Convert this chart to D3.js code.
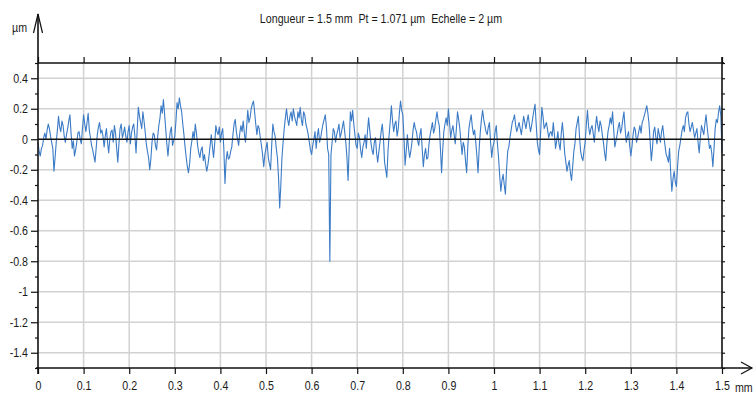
<!DOCTYPE html>
<html>
<head>
<meta charset="utf-8">
<script src="https://cdn.jsdelivr.net/npm/d3@7"></script>
<style>
  html, body { margin: 0; padding: 0; background: #fff; }
  svg { display: block; }
  text { font-family: "Liberation Sans", Arial, sans-serif; fill: #1a1a1a; white-space: pre; }
</style>
</head>
<body>
<svg id="chart" width="755" height="398"></svg>
<script>
// Roughness profile header
const titleText = "Longueur = 1.5 mm  Pt = 1.071 µm  Echelle = 2 µm";
const xUnit = "mm";
const yUnit = "µm";

// Axis ticks
const xTicks = [0, 0.1, 0.2, 0.3, 0.4, 0.5, 0.6, 0.7, 0.8, 0.9, 1, 1.1, 1.2, 1.3, 1.4, 1.5];
const yTicks = [0.4, 0.2, 0, -0.2, -0.4, -0.6, -0.8, -1, -1.2, -1.4];
const yMinorTicks = [0.5, 0.3, 0.1, -0.1, -0.3, -0.5, -0.7, -0.9, -1.1, -1.3, -1.5];

// Profile heights (µm) at 0, 0.005, 0.010 ... 1.5 mm
const sampleStep = 0.005;
const profile = [
  -0.02,-0.11,-0.04,0.04,0.06,0.07,-0.02,-0.21,-0.02,0.15,
  0.05,0.09,-0.02,0.07,0.16,-0.06,-0.11,-0.02,0.05,-0.03,
  0.16,0.05,0.17,0.01,-0.07,-0.15,0.03,0.11,0.06,-0.05,
  0.07,-0.09,0.05,-0.02,0.04,-0.15,0.07,0.01,0.08,-0.02,
  0.09,0.04,0.10,-0.09,0.21,0.11,0.18,0.05,-0.08,-0.20,
  -0.02,0.03,-0.07,0.09,0.22,0.26,0.07,-0.11,0.05,-0.04,
  0.02,0.24,0.271,0.18,0.03,-0.12,-0.22,-0.06,0.05,0.10,
  -0.04,-0.12,-0.05,-0.10,-0.21,
  -0.11,0.03,-0.12,0.09,0.03,-0.02,0.07,-0.29,-0.08,-0.12,
  -0.05,0.10,0.05,-0.04,0.09,0.12,-0.02,0.19,0.14,0.23,
  0.18,0.03,0.07,-0.04,-0.18,-0.06,-0.12,-0.20,0.10,0.02,
  -0.12,-0.45,-0.12,0.07,0.20,0.09,0.18,0.20,0.12,0.18,
  0.21,0.09,0.16,0.07,-0.02,-0.10,0.00,-0.06,0.07,0.01,
  0.10,0.16,-0.06,-0.80,-0.02,0.05,0.03,0.10,0.04,0.12,
  -0.02,-0.27,0.18,0.19,0.03,-0.06,0.01,-0.12,-0.02,-0.06,
  0.14,-0.02,-0.10,0.01,-0.15,
  -0.02,0.10,-0.15,-0.25,0.03,0.22,0.05,0.12,0.07,0.25,
  0.16,-0.17,0.03,-0.12,-0.02,0.11,0.05,-0.04,0.07,-0.18,
  -0.06,-0.12,0.03,0.11,0.07,0.18,0.09,-0.22,0.05,0.14,
  0.20,0.01,0.09,-0.03,0.18,0.07,-0.10,-0.05,-0.22,0.07,
  0.16,0.03,-0.02,-0.22,0.05,0.19,0.09,0.03,0.11,-0.12,
  -0.02,0.09,-0.12,-0.34,-0.23,-0.36,-0.08,0.01,0.11,0.16,
  0.05,0.11,0.03,0.15,0.07,0.16,0.05,0.14,0.23,-0.02,
  -0.10,0.21,0.07,0.11,0.01,
  0.05,0.11,-0.06,0.05,-0.07,0.11,-0.09,-0.21,-0.14,-0.27,
  -0.08,0.07,0.15,-0.08,-0.14,-0.02,0.19,0.03,0.09,-0.02,
  0.15,0.05,0.09,-0.02,-0.14,0.05,0.14,0.18,-0.05,0.03,
  0.11,0.07,0.18,-0.02,0.05,-0.11,0.03,0.06,0.01,0.09,
  0.11,0.16,0.22,0.10,-0.14,0.05,0.01,0.07,-0.02,0.09,
  -0.04,-0.12,-0.06,-0.34,-0.21,-0.31,-0.08,0.01,0.09,0.14,
  0.18,0.05,0.11,0.01,0.07,-0.09,0.09,0.03,0.16,0.01,
  -0.04,-0.18,0.07,0.11,0.22,-0.09
];

// Profile heights (µm) at the in-between stations 0.0025, 0.0075 ... 1.4975 mm
const profileMid = [
  -0.08,-0.06,0.01,0.00,0.10,0.02,-0.06,-0.12,0.06,0.08,
  0.12,0.02,0.03,0.12,0.04,-0.01,-0.07,0.04,0.00,0.07,
  0.10,0.11,0.06,-0.04,-0.11,-0.06,0.08,0.04,0.02,0.02,
  -0.02,0.00,0.06,0.09,-0.06,-0.03,0.10,0.04,0.02,0.05,
  -0.03,0.08,0.02,0.06,0.15,0.07,0.12,-0.03,-0.12,-0.13,
  0.04,-0.04,0.02,0.14,0.17,0.17,-0.03,-0.02,0.08,-0.01,
  0.12,0.20,0.22,0.10,-0.05,-0.18,-0.16,-0.01,0.00,0.04,
  -0.09,-0.07,-0.14,-0.16,-0.17,-0.04,-0.05,-0.03,0.05,0.08,
  0.04,-0.06,-0.14,-0.13,-0.08,0.03,0.13,0.00,0.04,0.05,
  0.04,0.08,0.11,0.20,0.25,0.10,0.09,0.01,-0.10,-0.10,
  -0.02,-0.16,-0.04,0.05,-0.06,-0.25,-0.30,-0.02,0.14,0.13,
  0.15,0.12,0.15,0.09,0.14,0.13,0.18,0.10,0.03,-0.07,
  -0.04,0.05,0.02,-0.02,0.06,0.13,0.08,-0.10,-0.10,0.07,
  -0.02,0.06,0.01,0.08,0.05,-0.12,-0.05,0.12,0.10,-0.04,
  0.04,-0.07,-0.05,0.03,0.05,0.06,-0.07,-0.02,-0.09,-0.08,
  0.05,0.01,-0.20,-0.08,0.12,0.12,0.10,0.02,0.17,0.19,
  0.02,-0.08,-0.06,-0.08,0.06,0.07,-0.01,0.03,-0.06,-0.10,
  -0.13,-0.03,0.07,0.04,0.13,0.12,-0.06,-0.07,0.10,0.09,
  0.11,0.06,0.03,0.07,0.13,-0.02,-0.02,-0.14,-0.05,0.12,
  0.08,0.06,-0.11,-0.06,0.13,0.13,0.05,0.08,-0.02,-0.05,
  0.05,-0.03,-0.24,-0.27,-0.30,-0.20,-0.05,0.06,0.13,0.09,
  0.08,0.07,0.09,0.11,0.12,0.10,0.09,0.19,0.10,-0.07,
  0.06,0.15,0.09,0.06,0.04,0.02,0.03,-0.01,-0.03,0.04,
  0.02,-0.15,-0.17,-0.22,-0.18,-0.03,0.11,0.02,-0.12,-0.07,
  0.10,0.08,0.07,0.04,0.08,0.09,0.12,0.03,-0.09,-0.03,
  0.09,0.10,0.06,-0.01,0.08,0.04,0.13,0.07,0.02,-0.04,
  -0.05,0.08,-0.02,0.05,0.04,0.13,0.19,0.17,-0.02,-0.06,
  0.08,-0.03,0.03,0.05,0.02,-0.10,-0.15,-0.22,-0.26,-0.28,
  -0.18,-0.04,0.06,0.05,0.17,0.10,0.08,0.06,0.04,-0.02,
  0.01,0.06,0.10,0.08,-0.06,-0.09,-0.06,0.13,0.18,0.15
];

// Merge both sets of stations into one ordered trace
const trace = [];
profile.forEach((h, i) => {
  trace.push({ pos: i * sampleStep, h });
  if (i < profileMid.length) trace.push({ pos: (i + 0.5) * sampleStep, h: profileMid[i] });
});

const svg = d3.select("#chart");
const plot = { left: 38, right: 722, top: 63, bottom: 368 };
const condense = 0.82;

const x = d3.scaleLinear().domain([0, 1.5]).range([plot.left, plot.right]);
const y = d3.scaleLinear().domain([-1.5, 0.5]).range([plot.bottom, plot.top]);
const fmt = d => String(+d.toFixed(1));

// Narrow lettering: squeeze each text horizontally around its own anchor
function narrow(sel) {
  sel.each(function () {
    const t = d3.select(this);
    const x0 = +t.attr("x") || 0;
    t.attr("x", x0 / condense).attr("transform", `scale(${condense},1)`);
  });
}

// Grid
const grid = svg.append("g").attr("class", "grid");
grid.selectAll("line.h").data(yTicks.filter(d => d !== 0)).join("line")
  .attr("x1", plot.left).attr("x2", plot.right)
  .attr("y1", d => y(d)).attr("y2", d => y(d))
  .attr("stroke", "#d2d2d2").attr("stroke-width", 1.5);
grid.selectAll("line.v").data(xTicks.filter(d => d > 0 && d < 1.5)).join("line")
  .attr("x1", d => x(d)).attr("x2", d => x(d))
  .attr("y1", plot.top).attr("y2", plot.bottom)
  .attr("stroke", "#d2d2d2").attr("stroke-width", 1.5);

// Profile trace
const line = d3.line()
  .x(d => x(d.pos))
  .y(d => y(d.h));
svg.append("path")
  .datum(trace)
  .attr("fill", "none")
  .attr("stroke", "#3b7bc6")
  .attr("stroke-width", 1.1)
  .attr("stroke-linejoin", "round")
  .attr("d", line);

// Zero reference line
svg.append("line")
  .attr("x1", plot.left).attr("x2", plot.right)
  .attr("y1", y(0)).attr("y2", y(0))
  .attr("stroke", "#111").attr("stroke-width", 1.6);

// Frame: top border with upward ticks
const topAxis = d3.axisTop(x).tickValues(xTicks).tickSize(6).tickFormat("");
svg.append("g").attr("transform", `translate(0,${plot.top})`).call(topAxis)
  .call(g => g.select(".domain").remove())
  .call(g => g.selectAll("line").attr("stroke", "#111").attr("stroke-width", 1.2));
svg.append("line")
  .attr("x1", plot.left).attr("x2", plot.right + 2)
  .attr("y1", plot.top).attr("y2", plot.top)
  .attr("stroke", "#111").attr("stroke-width", 1.6);

// Right border with small outward ticks
const rightAxis = d3.axisRight(y).tickValues(yTicks.concat(yMinorTicks)).tickSize(3).tickFormat("");
svg.append("g").attr("transform", `translate(${plot.right},0)`).call(rightAxis)
  .call(g => g.select(".domain").remove())
  .call(g => g.selectAll("line").attr("stroke", "#111").attr("stroke-width", 1.2));
svg.append("line")
  .attr("x1", plot.right).attr("x2", plot.right)
  .attr("y1", plot.top - 6).attr("y2", plot.bottom)
  .attr("stroke", "#111").attr("stroke-width", 1.6);

// Left axis: major labelled ticks, minor ticks, arrow
const leftMajor = d3.axisLeft(y).tickValues(yTicks).tickSize(7).tickPadding(3).tickFormat(fmt);
svg.append("g").attr("transform", `translate(${plot.left},0)`).call(leftMajor)
  .call(g => g.select(".domain").remove())
  .call(g => g.selectAll("line").attr("stroke", "#111").attr("stroke-width", 1.2))
  .call(g => g.selectAll("text").attr("font-size", 13).style("fill", "#1a1a1a").call(narrow));
const leftMinor = d3.axisLeft(y).tickValues(yMinorTicks).tickSize(3).tickFormat("");
svg.append("g").attr("transform", `translate(${plot.left},0)`).call(leftMinor)
  .call(g => g.select(".domain").remove())
  .call(g => g.selectAll("line").attr("stroke", "#111").attr("stroke-width", 1.2));
svg.append("line")
  .attr("x1", plot.left).attr("x2", plot.left)
  .attr("y1", 14).attr("y2", plot.bottom + 6)
  .attr("stroke", "#111").attr("stroke-width", 1.6);
svg.append("path")
  .attr("d", `M${plot.left - 4.5},33 L${plot.left},14 L${plot.left + 4.5},33`)
  .attr("fill", "none").attr("stroke", "#111").attr("stroke-width", 1.2);
svg.append("text")
  .attr("x", 12).attr("y", 32)
  .attr("font-size", 13)
  .text(yUnit)
  .call(narrow);

// Bottom axis with arrow
const bottomAxis = d3.axisBottom(x).tickValues(xTicks).tickSize(6).tickPadding(7).tickFormat(fmt);
svg.append("g").attr("transform", `translate(0,${plot.bottom})`).call(bottomAxis)
  .call(g => g.select(".domain").remove())
  .call(g => g.selectAll("line").attr("stroke", "#111").attr("stroke-width", 1.2))
  .call(g => g.selectAll("text").attr("font-size", 13).style("fill", "#1a1a1a").call(narrow));
svg.append("line")
  .attr("x1", plot.left - 2).attr("x2", 752)
  .attr("y1", plot.bottom).attr("y2", plot.bottom)
  .attr("stroke", "#111").attr("stroke-width", 1.6);
svg.append("path")
  .attr("d", `M741,${plot.bottom - 6} L752,${plot.bottom} L741,${plot.bottom + 6}`)
  .attr("fill", "none").attr("stroke", "#111").attr("stroke-width", 1.2);
svg.append("text")
  .attr("x", 735).attr("y", plot.bottom + 24)
  .attr("font-size", 13)
  .text(xUnit)
  .call(narrow);

// Title
svg.append("text")
  .attr("x", 381).attr("y", 23)
  .attr("text-anchor", "middle")
  .attr("font-size", 13)
  .text(titleText)
  .call(narrow);
</script>
</body>
</html>
